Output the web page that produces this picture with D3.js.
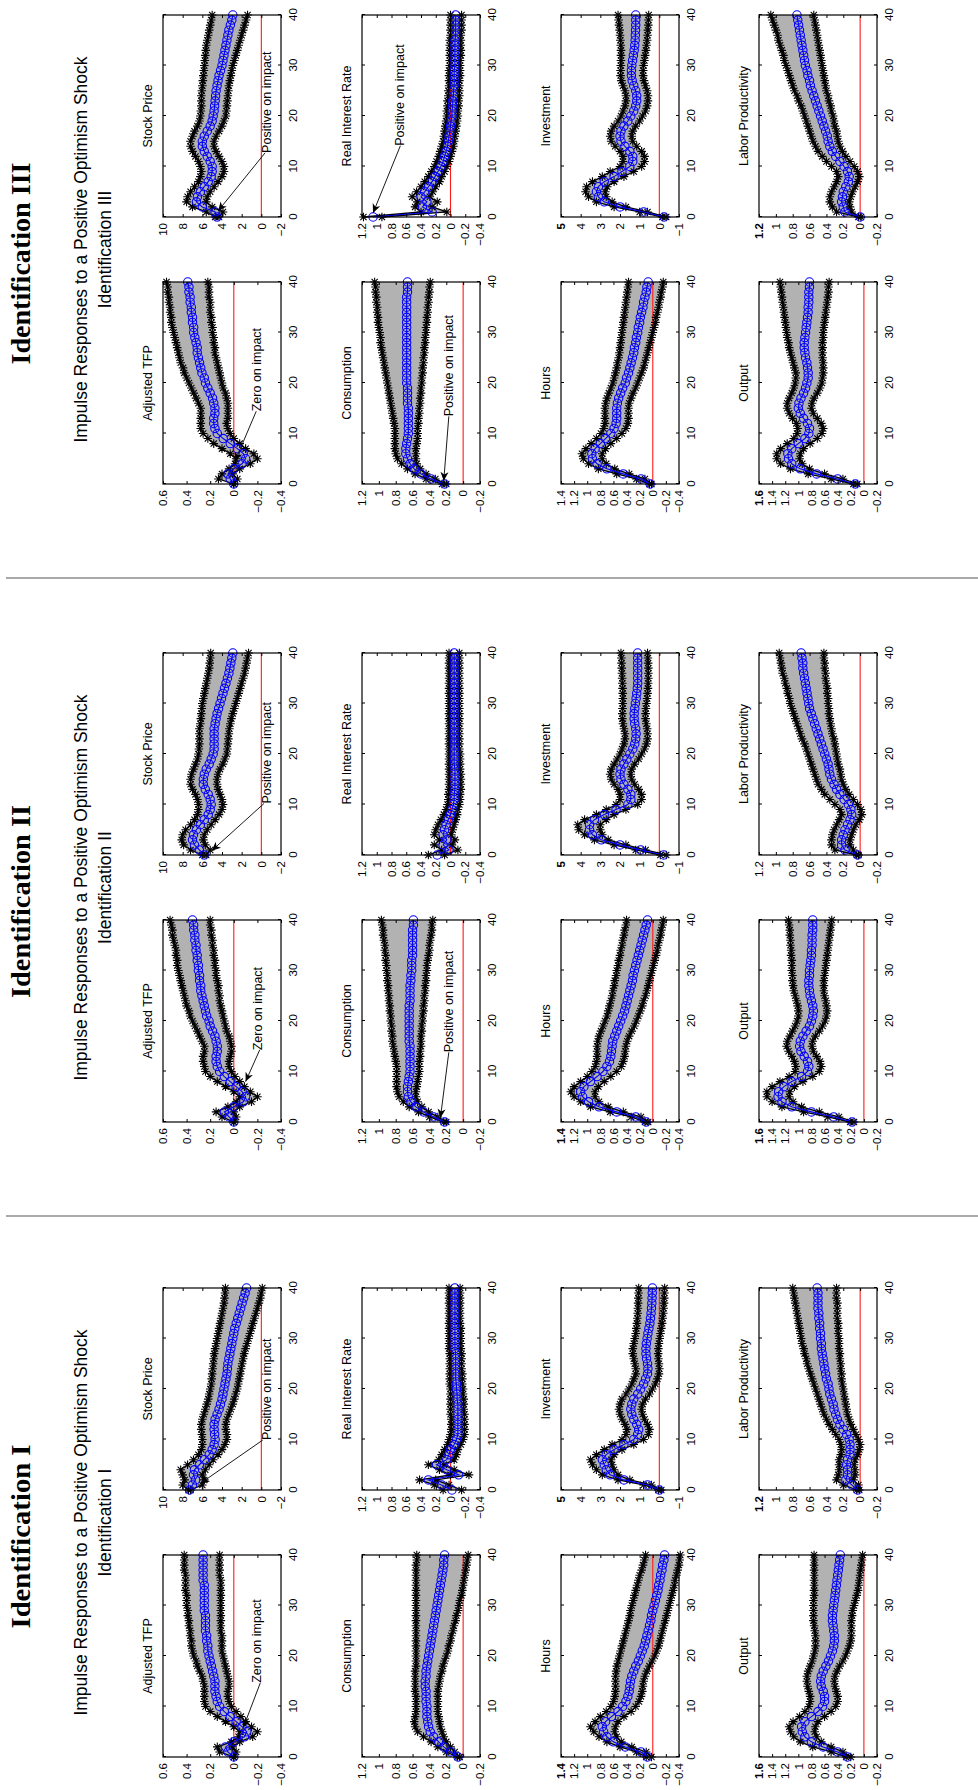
<!DOCTYPE html>
<html><head><meta charset="utf-8">
<script src="https://cdn.jsdelivr.net/npm/d3@7"></script>
<style>
body{margin:0;background:#fff;}
svg{display:block;}
</style></head><body>
<svg id="c" width="978" height="1790"></svg>
<script>
// ---------------- DATA ----------------
const horizon = [0,1,2,3,4,5,6,7,8,9,10,11,12,13,14,15,16,17,18,19,20,21,22,23,24,25,26,27,28,29,30,31,32,33,34,35,36,37,38,39,40];
const xTicks = [0,10,20,30,40];
const varNames = ["Adjusted TFP","Stock Price","Consumption","Real Interest Rate","Hours","Investment","Output","Labor Productivity"];
const yDomains = [[-0.4,0.6],[-2,10],[-0.2,1.2],[-0.4,1.2],[-0.4,1.4],[-1,5],[-0.2,1.6],[-0.2,1.2]];
const yTicks = [[-0.4,-0.2,0,0.2,0.4,0.6],[-2,0,2,4,6,8,10],[-0.2,0,0.2,0.4,0.6,0.8,1,1.2],[-0.4,-0.2,0,0.2,0.4,0.6,0.8,1,1.2],
  [-0.4,-0.2,0,0.2,0.4,0.6,0.8,1,1.2,1.4],[-1,0,1,2,3,4,5],[-0.2,0,0.2,0.4,0.6,0.8,1,1.2,1.4,1.6],[-0.2,0,0.2,0.4,0.6,0.8,1,1.2]];
const panelTitles = ["Identification I","Identification II","Identification III"];
const subtitleLine1 = "Impulse Responses to a Positive Optimism Shock";

// Identification I
const tfpMed1=[0,0.05,0.07,0,-0.09,-0.11,-0.07,-0.02,0.03,0.08,0.12,0.14,0.15,0.16,0.16,0.16,0.17,0.18,0.19,0.2,0.21,0.22,0.22,0.23,0.23,0.24,0.24,0.24,0.24,0.25,0.25,0.25,0.25,0.25,0.25,0.26,0.26,0.26,0.26,0.26,0.26];
const tfpHi1=[0,0.12,0.14,0.02,-0.04,-0.05,0,0.07,0.14,0.2,0.24,0.25,0.25,0.25,0.25,0.26,0.27,0.29,0.31,0.32,0.34,0.35,0.36,0.36,0.37,0.37,0.38,0.38,0.39,0.39,0.4,0.4,0.4,0.41,0.41,0.41,0.41,0.42,0.42,0.42,0.42];
const tfpLo1=[0,-0.02,0.01,-0.05,-0.16,-0.2,-0.15,-0.1,-0.06,-0.02,0.02,0.04,0.05,0.05,0.04,0.04,0.05,0.06,0.07,0.08,0.09,0.1,0.1,0.1,0.1,0.11,0.11,0.11,0.11,0.11,0.11,0.11,0.11,0.11,0.11,0.11,0.12,0.12,0.12,0.12,0.12];
const stockMed1=[7.3,7.0,6.7,6.9,6.8,6.3,5.8,5.3,5.0,4.8,4.7,4.75,4.8,4.8,4.7,4.5,4.3,4.15,4.0,3.9,3.8,3.7,3.6,3.5,3.45,3.4,3.3,3.2,3.1,3.0,2.9,2.8,2.7,2.55,2.4,2.25,2.1,1.95,1.8,1.65,1.5];
const stockHi1=[7.4,8.0,7.8,8.0,8.2,7.5,6.9,6.4,6.1,6.0,6.0,6.05,6.1,6.1,6.0,5.85,5.7,5.55,5.4,5.3,5.2,5.1,5.05,5.0,4.95,4.9,4.85,4.8,4.7,4.6,4.5,4.4,4.3,4.2,4.1,4.0,3.9,3.8,3.75,3.7,3.65];
const stockLo1=[7.2,6.0,5.8,6.0,5.7,5.3,4.9,4.4,4.0,3.7,3.5,3.5,3.6,3.6,3.5,3.3,3.1,2.9,2.75,2.6,2.45,2.35,2.25,2.15,2.05,1.95,1.85,1.75,1.6,1.45,1.3,1.15,1.0,0.85,0.7,0.55,0.4,0.25,0.1,0.0,-0.1];
const consMed1=[0.06,0.15,0.23,0.29,0.35,0.39,0.41,0.42,0.43,0.43,0.43,0.44,0.44,0.44,0.45,0.45,0.44,0.44,0.43,0.42,0.41,0.4,0.39,0.38,0.37,0.36,0.35,0.34,0.33,0.32,0.31,0.3,0.29,0.28,0.27,0.26,0.25,0.24,0.23,0.23,0.22];
const consHi1=[0.07,0.2,0.3,0.38,0.47,0.54,0.57,0.58,0.57,0.56,0.56,0.56,0.56,0.57,0.57,0.57,0.57,0.57,0.56,0.56,0.56,0.56,0.56,0.56,0.56,0.56,0.56,0.56,0.56,0.56,0.56,0.56,0.56,0.56,0.56,0.56,0.56,0.56,0.56,0.55,0.55];
const consLo1=[0.04,0.1,0.15,0.2,0.23,0.25,0.27,0.28,0.29,0.3,0.3,0.3,0.3,0.3,0.29,0.28,0.27,0.25,0.24,0.22,0.2,0.18,0.17,0.15,0.14,0.12,0.11,0.09,0.08,0.06,0.05,0.04,0.02,0.01,0,-0.01,-0.02,-0.03,-0.04,-0.05,-0.06];
const rirMed1=[-0.02,0.12,0.3,-0.11,0.05,0.19,0.05,0.02,0,-0.05,-0.08,-0.1,-0.1,-0.1,-0.1,-0.1,-0.1,-0.1,-0.09,-0.09,-0.08,-0.08,-0.07,-0.07,-0.07,-0.07,-0.07,-0.07,-0.06,-0.06,-0.06,-0.06,-0.06,-0.06,-0.06,-0.06,-0.06,-0.06,-0.06,-0.06,-0.06];
const rirHi1=[0.1,0.22,0.42,0,0.15,0.3,0.16,0.12,0.08,0.04,0.02,0,-0.01,-0.01,-0.01,0,0,0,0,0,0,0.01,0.01,0.01,0.01,0.01,0.01,0.01,0.02,0.02,0.02,0.02,0.02,0.02,0.02,0.02,0.02,0.02,0.02,0.02,0.02];
const rirLo1=[-0.15,0.02,0.2,-0.25,-0.05,0.09,-0.05,-0.08,-0.1,-0.14,-0.17,-0.19,-0.19,-0.19,-0.19,-0.19,-0.18,-0.18,-0.18,-0.17,-0.17,-0.16,-0.16,-0.16,-0.15,-0.15,-0.15,-0.15,-0.14,-0.14,-0.14,-0.14,-0.14,-0.13,-0.13,-0.13,-0.13,-0.13,-0.13,-0.13,-0.13];
const hoursMed1=[0.08,0.18,0.42,0.6,0.7,0.75,0.77,0.72,0.63,0.53,0.46,0.41,0.38,0.36,0.35,0.34,0.32,0.29,0.26,0.22,0.19,0.16,0.13,0.11,0.09,0.07,0.05,0.03,0.02,0,-0.02,-0.04,-0.06,-0.08,-0.09,-0.11,-0.12,-0.14,-0.15,-0.17,-0.18];
const hoursHi1=[0.1,0.25,0.5,0.7,0.82,0.9,0.95,0.88,0.8,0.71,0.64,0.6,0.58,0.57,0.57,0.57,0.57,0.56,0.55,0.53,0.51,0.49,0.47,0.45,0.43,0.41,0.39,0.37,0.35,0.34,0.32,0.3,0.28,0.26,0.24,0.22,0.2,0.17,0.15,0.13,0.11];
const hoursLo1=[0.02,0.1,0.32,0.48,0.55,0.58,0.57,0.53,0.44,0.33,0.26,0.21,0.18,0.16,0.15,0.14,0.12,0.09,0.05,0.01,-0.03,-0.06,-0.09,-0.11,-0.13,-0.15,-0.17,-0.19,-0.21,-0.23,-0.25,-0.27,-0.29,-0.31,-0.33,-0.34,-0.36,-0.38,-0.4,-0.41,-0.42];
const invMed1=[0,0.6,1.8,2.5,2.7,2.8,2.9,2.7,2.3,1.8,1.3,1.1,1.05,1.15,1.3,1.4,1.45,1.4,1.3,1.1,0.95,0.8,0.7,0.6,0.58,0.6,0.65,0.68,0.68,0.66,0.62,0.58,0.53,0.48,0.45,0.42,0.4,0.38,0.37,0.36,0.35];
const invHi1=[0.05,0.8,2.1,2.9,3.2,3.4,3.5,3.2,2.8,2.4,1.9,1.7,1.65,1.75,1.9,2,2.05,2,1.9,1.7,1.55,1.4,1.3,1.2,1.2,1.25,1.3,1.35,1.35,1.3,1.25,1.2,1.17,1.14,1.12,1.1,1.09,1.08,1.07,1.06,1.05];
const invLo1=[-0.1,0.4,1.5,2.1,2.3,2.4,2.45,2.3,1.9,1.3,0.8,0.55,0.5,0.6,0.75,0.85,0.9,0.85,0.7,0.5,0.35,0.2,0.1,0.02,0,0.02,0.05,0.06,0.05,0.02,-0.02,-0.06,-0.1,-0.14,-0.17,-0.2,-0.22,-0.24,-0.25,-0.26,-0.27];
const outMed1=[0.25,0.4,0.62,0.8,0.9,0.94,0.95,0.9,0.8,0.7,0.63,0.6,0.6,0.62,0.65,0.66,0.65,0.62,0.58,0.54,0.51,0.48,0.46,0.45,0.45,0.46,0.47,0.48,0.48,0.47,0.46,0.45,0.44,0.43,0.42,0.41,0.4,0.39,0.38,0.37,0.36];
const outHi1=[0.27,0.5,0.78,0.97,1.07,1.12,1.14,1.08,0.98,0.9,0.84,0.82,0.82,0.84,0.86,0.87,0.87,0.85,0.82,0.79,0.77,0.75,0.74,0.74,0.74,0.75,0.76,0.77,0.77,0.77,0.77,0.77,0.76,0.76,0.76,0.76,0.76,0.76,0.76,0.76,0.76];
const outLo1=[0.2,0.32,0.5,0.65,0.72,0.75,0.74,0.7,0.6,0.5,0.43,0.4,0.4,0.42,0.44,0.45,0.44,0.41,0.37,0.32,0.28,0.25,0.22,0.2,0.19,0.19,0.19,0.19,0.18,0.17,0.15,0.13,0.11,0.09,0.08,0.07,0.06,0.05,0.04,0.03,0.02];
const lpMed1=[0.03,0.1,0.17,0.15,0.15,0.16,0.15,0.12,0.12,0.12,0.13,0.16,0.2,0.24,0.27,0.29,0.31,0.32,0.34,0.36,0.37,0.38,0.4,0.41,0.42,0.43,0.44,0.45,0.46,0.46,0.47,0.47,0.48,0.48,0.49,0.49,0.5,0.5,0.5,0.5,0.51];
const lpHi1=[0.04,0.2,0.28,0.26,0.25,0.25,0.25,0.23,0.22,0.23,0.25,0.29,0.33,0.37,0.4,0.43,0.45,0.47,0.49,0.51,0.53,0.55,0.57,0.59,0.61,0.63,0.64,0.66,0.67,0.69,0.7,0.71,0.72,0.73,0.74,0.75,0.76,0.77,0.78,0.79,0.8];
const lpLo1=[0.01,0.02,0.08,0.06,0.06,0.07,0.06,0.03,0.01,0,0.02,0.05,0.08,0.11,0.13,0.15,0.16,0.17,0.18,0.19,0.2,0.21,0.22,0.22,0.23,0.23,0.24,0.24,0.25,0.25,0.25,0.26,0.26,0.26,0.27,0.27,0.27,0.27,0.28,0.28,0.28];

// Identification II
const tfpMed2=[0,0.04,0.08,0,-0.08,-0.1,-0.07,-0.02,0.03,0.08,0.12,0.14,0.15,0.15,0.14,0.14,0.15,0.16,0.18,0.2,0.21,0.23,0.24,0.25,0.26,0.27,0.28,0.28,0.29,0.29,0.3,0.3,0.31,0.31,0.32,0.32,0.33,0.33,0.34,0.34,0.35];
const tfpHi2=[0,0.1,0.15,0.05,-0.02,-0.05,0,0.07,0.14,0.2,0.24,0.25,0.26,0.26,0.25,0.25,0.27,0.29,0.31,0.33,0.35,0.37,0.38,0.4,0.41,0.42,0.43,0.44,0.45,0.46,0.47,0.48,0.48,0.49,0.49,0.5,0.51,0.52,0.52,0.53,0.54];
const tfpLo2=[0,-0.02,0,-0.05,-0.15,-0.2,-0.14,-0.09,-0.05,-0.01,0.02,0.04,0.04,0.03,0.02,0.02,0.03,0.04,0.06,0.07,0.08,0.09,0.1,0.11,0.12,0.12,0.13,0.13,0.14,0.15,0.15,0.16,0.16,0.17,0.17,0.18,0.18,0.19,0.19,0.2,0.2];
const stockMed2=[5.8,6.3,6.8,7,6.9,6.6,6.2,5.8,5.4,5.2,5.1,5.2,5.4,5.7,5.9,5.9,5.8,5.6,5.3,5.1,4.9,4.8,4.8,4.8,4.8,4.8,4.7,4.6,4.5,4.35,4.2,4.05,3.9,3.75,3.6,3.45,3.3,3.2,3.1,3,2.9];
const stockHi2=[6,7.2,7.9,8.1,8,7.7,7.2,6.8,6.5,6.4,6.4,6.5,6.7,7,7.2,7.2,7.1,6.9,6.7,6.5,6.4,6.35,6.3,6.3,6.3,6.3,6.2,6.15,6.1,6.05,6,5.9,5.8,5.7,5.6,5.5,5.4,5.3,5.25,5.2,5.15];
const stockLo2=[5.6,5.2,5.7,5.9,5.8,5.5,5.1,4.7,4.3,4,3.9,4,4.2,4.4,4.5,4.5,4.4,4.2,3.9,3.7,3.5,3.45,3.4,3.35,3.3,3.25,3.15,3.05,2.9,2.75,2.6,2.45,2.3,2.15,2,1.85,1.7,1.6,1.5,1.4,1.3];
const consMed2=[0.22,0.35,0.47,0.56,0.62,0.65,0.66,0.66,0.65,0.64,0.63,0.63,0.63,0.63,0.63,0.63,0.64,0.64,0.64,0.64,0.64,0.64,0.64,0.64,0.63,0.63,0.63,0.63,0.62,0.62,0.61,0.61,0.61,0.6,0.6,0.6,0.6,0.6,0.6,0.59,0.59];
const consHi2=[0.23,0.4,0.53,0.64,0.71,0.76,0.78,0.79,0.79,0.79,0.79,0.79,0.8,0.81,0.82,0.83,0.84,0.84,0.85,0.85,0.86,0.86,0.87,0.87,0.88,0.88,0.89,0.89,0.9,0.9,0.91,0.91,0.92,0.92,0.93,0.93,0.94,0.95,0.95,0.96,0.97];
const consLo2=[0.2,0.3,0.41,0.49,0.54,0.56,0.56,0.55,0.54,0.53,0.52,0.52,0.52,0.51,0.51,0.5,0.5,0.5,0.49,0.49,0.48,0.48,0.47,0.47,0.46,0.46,0.45,0.45,0.44,0.44,0.43,0.43,0.42,0.41,0.4,0.4,0.39,0.38,0.37,0.37,0.36];
const rirMed2=[0.18,0.02,0.1,0.05,0.1,0.08,0.06,0.03,0,-0.02,-0.04,-0.05,-0.05,-0.06,-0.06,-0.06,-0.06,-0.06,-0.05,-0.05,-0.05,-0.05,-0.05,-0.05,-0.05,-0.05,-0.05,-0.05,-0.05,-0.05,-0.05,-0.05,-0.05,-0.05,-0.05,-0.05,-0.05,-0.05,-0.05,-0.05,-0.05];
const rirHi2=[0.3,0.12,0.22,0.15,0.22,0.2,0.17,0.13,0.09,0.06,0.04,0.03,0.03,0.02,0.02,0.02,0.02,0.02,0.02,0.02,0.02,0.02,0.02,0.02,0.02,0.02,0.02,0.02,0.02,0.02,0.02,0.02,0.02,0.02,0.02,0.02,0.02,0.02,0.02,0.02,0.02];
const rirLo2=[0.08,-0.1,-0.02,-0.06,-0.01,-0.03,-0.05,-0.07,-0.09,-0.1,-0.12,-0.13,-0.13,-0.14,-0.14,-0.14,-0.14,-0.13,-0.13,-0.13,-0.13,-0.12,-0.12,-0.12,-0.12,-0.12,-0.12,-0.12,-0.12,-0.12,-0.12,-0.12,-0.12,-0.12,-0.12,-0.12,-0.12,-0.12,-0.12,-0.12,-0.12];
const hoursMed2=[0.1,0.26,0.55,0.82,0.98,1.07,1.1,1.05,0.95,0.85,0.76,0.7,0.66,0.64,0.63,0.62,0.61,0.58,0.55,0.52,0.49,0.46,0.43,0.41,0.39,0.37,0.35,0.33,0.31,0.3,0.28,0.26,0.24,0.22,0.2,0.18,0.16,0.14,0.12,0.1,0.08];
const hoursHi2=[0.12,0.33,0.65,0.95,1.1,1.2,1.25,1.2,1.1,1,0.93,0.88,0.86,0.85,0.85,0.85,0.84,0.82,0.79,0.76,0.73,0.7,0.68,0.66,0.64,0.62,0.61,0.59,0.58,0.56,0.55,0.53,0.52,0.5,0.49,0.47,0.46,0.44,0.43,0.41,0.4];
const hoursLo2=[0.07,0.18,0.45,0.68,0.82,0.88,0.88,0.83,0.74,0.64,0.55,0.48,0.45,0.43,0.42,0.41,0.39,0.36,0.32,0.28,0.25,0.22,0.19,0.16,0.14,0.11,0.09,0.07,0.05,0.03,0.01,-0.01,-0.03,-0.05,-0.07,-0.08,-0.1,-0.12,-0.13,-0.15,-0.16];
const invMed2=[-0.22,0.95,2,2.95,3.4,3.55,3.55,3.3,2.8,2.2,1.6,1.45,1.45,1.6,1.8,1.95,2,1.95,1.8,1.65,1.5,1.35,1.25,1.2,1.18,1.2,1.25,1.28,1.28,1.25,1.22,1.18,1.15,1.12,1.1,1.1,1.1,1.1,1.1,1.1,1.1];
const invHi2=[-0.05,1.2,2.3,3.3,3.8,4.1,4.15,3.8,3.2,2.7,2.2,2,2,2.1,2.3,2.45,2.5,2.45,2.3,2.15,2,1.9,1.8,1.75,1.75,1.8,1.85,1.88,1.88,1.87,1.86,1.86,1.86,1.87,1.88,1.89,1.9,1.91,1.92,1.93,1.95];
const invLo2=[-0.35,0.7,1.7,2.6,2.9,3,3,2.7,2.3,1.7,1.1,0.9,0.9,1.05,1.25,1.4,1.45,1.4,1.25,1.05,0.9,0.75,0.65,0.6,0.6,0.62,0.66,0.7,0.7,0.68,0.65,0.62,0.6,0.58,0.57,0.56,0.56,0.56,0.57,0.58,0.6];
const outMed2=[0.18,0.46,0.8,1.1,1.25,1.31,1.3,1.22,1.1,0.95,0.86,0.84,0.86,0.91,0.96,0.98,0.97,0.93,0.88,0.83,0.8,0.78,0.77,0.78,0.8,0.82,0.83,0.84,0.84,0.83,0.83,0.82,0.81,0.8,0.8,0.79,0.79,0.79,0.78,0.78,0.78];
const outHi2=[0.21,0.55,0.92,1.25,1.4,1.48,1.48,1.4,1.28,1.14,1.05,1.04,1.06,1.1,1.15,1.18,1.17,1.13,1.09,1.05,1.02,1,1,1.01,1.03,1.05,1.07,1.08,1.09,1.09,1.1,1.1,1.1,1.11,1.11,1.12,1.12,1.13,1.13,1.14,1.15];
const outLo2=[0.15,0.38,0.68,0.95,1.08,1.14,1.13,1.06,0.93,0.78,0.68,0.65,0.67,0.72,0.77,0.79,0.78,0.74,0.68,0.63,0.59,0.57,0.56,0.57,0.58,0.6,0.61,0.61,0.61,0.6,0.59,0.58,0.57,0.56,0.55,0.54,0.53,0.52,0.51,0.5,0.49];
const lpMed2=[0.03,0.18,0.22,0.22,0.2,0.18,0.15,0.12,0.1,0.11,0.14,0.19,0.24,0.28,0.31,0.34,0.36,0.37,0.38,0.4,0.42,0.44,0.46,0.48,0.5,0.52,0.54,0.56,0.58,0.6,0.61,0.62,0.63,0.64,0.65,0.66,0.67,0.68,0.68,0.69,0.7];
const lpHi2=[0.04,0.3,0.34,0.34,0.33,0.31,0.28,0.25,0.22,0.24,0.3,0.36,0.42,0.46,0.5,0.52,0.54,0.56,0.58,0.6,0.62,0.64,0.66,0.69,0.71,0.73,0.75,0.77,0.79,0.81,0.83,0.84,0.86,0.87,0.89,0.9,0.92,0.93,0.94,0.95,0.96];
const lpLo2=[0.02,0.08,0.12,0.12,0.1,0.08,0.05,0.01,-0.02,-0.01,0.03,0.08,0.13,0.17,0.2,0.22,0.23,0.24,0.26,0.27,0.28,0.29,0.3,0.31,0.33,0.34,0.35,0.36,0.37,0.37,0.38,0.38,0.39,0.39,0.4,0.41,0.41,0.42,0.42,0.43,0.43];

// Identification III
const tfpMed3=[0,0.03,0.05,0,-0.07,-0.1,-0.08,-0.03,0.03,0.09,0.14,0.16,0.17,0.17,0.16,0.16,0.17,0.18,0.2,0.22,0.24,0.25,0.27,0.28,0.29,0.3,0.31,0.31,0.32,0.33,0.34,0.34,0.35,0.35,0.36,0.36,0.37,0.37,0.38,0.38,0.39];
const tfpHi3=[0,0.13,0.1,0.04,-0.01,-0.02,0.03,0.1,0.17,0.22,0.26,0.28,0.28,0.28,0.28,0.28,0.3,0.32,0.34,0.36,0.38,0.4,0.42,0.43,0.45,0.46,0.47,0.48,0.49,0.5,0.51,0.52,0.53,0.53,0.54,0.54,0.55,0.55,0.56,0.56,0.57];
const tfpLo3=[0,-0.03,0.01,-0.05,-0.14,-0.2,-0.17,-0.1,-0.05,0,0.03,0.05,0.06,0.05,0.05,0.05,0.05,0.06,0.07,0.09,0.1,0.11,0.12,0.13,0.14,0.15,0.16,0.16,0.17,0.17,0.18,0.18,0.19,0.19,0.2,0.2,0.2,0.21,0.21,0.21,0.22];
const stockMed3=[4.5,4.7,6,6.6,6.5,6.2,5.8,5.4,5.1,5,5,5.2,5.5,5.8,6,6,5.8,5.5,5.2,5,4.9,4.8,4.75,4.7,4.65,4.6,4.5,4.4,4.3,4.15,4,3.9,3.8,3.7,3.6,3.5,3.4,3.3,3.15,3,2.9];
const stockHi3=[4.7,5.6,7,7.6,7.5,7.2,6.8,6.4,6.2,6.1,6.2,6.4,6.7,7,7.2,7.2,7,6.8,6.5,6.3,6.2,6.15,6.1,6.1,6.1,6.05,6,5.95,5.9,5.85,5.8,5.75,5.7,5.65,5.6,5.5,5.4,5.3,5.2,5.1,5];
const stockLo3=[4.3,3.9,5,5.6,5.5,5.2,4.8,4.4,4,3.8,3.8,4,4.3,4.6,4.8,4.8,4.6,4.3,4,3.8,3.6,3.55,3.5,3.45,3.4,3.35,3.3,3.2,3.1,3,2.9,2.75,2.6,2.45,2.3,2.15,2,1.85,1.7,1.55,1.4];
const consMed3=[0.22,0.38,0.5,0.58,0.63,0.66,0.68,0.68,0.67,0.66,0.65,0.65,0.65,0.65,0.65,0.65,0.66,0.66,0.66,0.66,0.67,0.67,0.67,0.67,0.67,0.67,0.67,0.67,0.67,0.67,0.67,0.67,0.67,0.67,0.67,0.67,0.67,0.67,0.66,0.66,0.66];
const consHi3=[0.25,0.44,0.57,0.66,0.73,0.78,0.8,0.81,0.81,0.81,0.81,0.81,0.82,0.83,0.84,0.85,0.86,0.87,0.88,0.89,0.9,0.91,0.92,0.93,0.94,0.95,0.96,0.97,0.98,0.98,0.99,1,1.01,1.01,1.02,1.02,1.03,1.03,1.04,1.04,1.05];
const consLo3=[0.2,0.33,0.44,0.51,0.55,0.56,0.56,0.56,0.55,0.54,0.54,0.54,0.53,0.53,0.52,0.52,0.51,0.51,0.5,0.5,0.49,0.49,0.48,0.48,0.47,0.47,0.46,0.46,0.45,0.45,0.44,0.44,0.43,0.43,0.42,0.42,0.41,0.41,0.4,0.4,0.39];
const rirMed3=[1.05,0.25,0.38,0.32,0.4,0.35,0.3,0.25,0.21,0.17,0.13,0.1,0.08,0.06,0.04,0.03,0.02,0.01,0,-0.01,-0.02,-0.02,-0.03,-0.03,-0.04,-0.04,-0.05,-0.05,-0.05,-0.05,-0.06,-0.06,-0.06,-0.06,-0.06,-0.06,-0.07,-0.07,-0.07,-0.07,-0.07];
const rirHi3=[1.18,0.4,0.48,0.45,0.52,0.46,0.4,0.35,0.3,0.26,0.22,0.19,0.16,0.14,0.12,0.1,0.09,0.08,0.07,0.06,0.05,0.05,0.04,0.04,0.03,0.03,0.02,0.02,0.02,0.02,0.01,0.01,0.01,0.01,0.01,0.01,0,0,0,0,0];
const rirLo3=[0.93,0.05,0.25,0.18,0.28,0.24,0.2,0.15,0.12,0.08,0.05,0.02,0,-0.02,-0.04,-0.05,-0.06,-0.07,-0.08,-0.09,-0.1,-0.1,-0.11,-0.11,-0.12,-0.12,-0.12,-0.12,-0.13,-0.13,-0.13,-0.13,-0.14,-0.14,-0.14,-0.14,-0.14,-0.15,-0.15,-0.15,-0.15];
const hoursMed3=[0.04,0.18,0.45,0.7,0.85,0.92,0.93,0.88,0.8,0.72,0.64,0.59,0.56,0.55,0.55,0.55,0.54,0.52,0.49,0.46,0.42,0.4,0.37,0.35,0.33,0.31,0.29,0.28,0.26,0.25,0.23,0.22,0.2,0.19,0.17,0.15,0.14,0.12,0.1,0.09,0.07];
const hoursHi3=[0.05,0.25,0.55,0.83,0.98,1.06,1.08,1.02,0.94,0.86,0.79,0.75,0.73,0.73,0.73,0.73,0.72,0.7,0.67,0.64,0.61,0.59,0.57,0.55,0.54,0.52,0.51,0.5,0.49,0.48,0.47,0.46,0.45,0.44,0.43,0.42,0.41,0.4,0.39,0.38,0.37];
const hoursLo3=[0.02,0.12,0.36,0.58,0.71,0.77,0.77,0.72,0.64,0.55,0.47,0.41,0.38,0.37,0.37,0.37,0.36,0.33,0.3,0.26,0.23,0.2,0.17,0.14,0.12,0.1,0.08,0.06,0.04,0.02,0,-0.02,-0.04,-0.05,-0.07,-0.09,-0.1,-0.12,-0.13,-0.15,-0.16];
const invMed3=[-0.24,0.8,2,2.8,3.1,3.2,3.1,2.8,2.3,1.9,1.5,1.35,1.35,1.5,1.75,1.95,2,1.95,1.8,1.6,1.45,1.3,1.2,1.15,1.15,1.2,1.3,1.38,1.42,1.42,1.4,1.36,1.32,1.28,1.25,1.23,1.22,1.21,1.2,1.2,1.2];
const invHi3=[-0.15,1,2.3,3.2,3.6,3.75,3.7,3.4,2.9,2.5,2,1.85,1.85,2,2.25,2.45,2.5,2.45,2.3,2.1,1.95,1.85,1.75,1.7,1.7,1.75,1.85,1.93,1.97,1.97,1.96,1.95,1.95,1.95,1.96,1.98,2,2.02,2.05,2.07,2.1];
const invLo3=[-0.35,0.6,1.7,2.4,2.7,2.75,2.65,2.3,1.8,1.3,0.9,0.75,0.75,0.9,1.15,1.35,1.4,1.35,1.2,1,0.85,0.7,0.62,0.58,0.58,0.62,0.7,0.78,0.82,0.82,0.8,0.76,0.72,0.68,0.65,0.62,0.6,0.58,0.56,0.55,0.54];
const outMed3=[0.13,0.4,0.72,0.97,1.1,1.15,1.16,1.1,1,0.9,0.84,0.83,0.86,0.92,0.97,1,0.99,0.96,0.92,0.89,0.87,0.85,0.85,0.86,0.87,0.89,0.9,0.91,0.91,0.9,0.89,0.88,0.87,0.86,0.85,0.85,0.84,0.84,0.84,0.83,0.83];
const outHi3=[0.16,0.5,0.85,1.12,1.27,1.33,1.33,1.27,1.17,1.07,1.02,1.01,1.03,1.09,1.14,1.17,1.17,1.14,1.1,1.07,1.05,1.04,1.04,1.06,1.08,1.1,1.12,1.14,1.15,1.17,1.18,1.19,1.2,1.21,1.22,1.23,1.24,1.25,1.26,1.27,1.28];
const outLo3=[0.1,0.32,0.6,0.83,0.94,0.98,0.97,0.92,0.82,0.71,0.64,0.62,0.65,0.71,0.77,0.8,0.79,0.76,0.71,0.67,0.64,0.63,0.62,0.62,0.62,0.63,0.63,0.63,0.63,0.62,0.62,0.61,0.6,0.59,0.58,0.57,0.56,0.55,0.54,0.54,0.53];
const lpMed3=[0,0.18,0.2,0.22,0.21,0.2,0.17,0.14,0.13,0.15,0.19,0.24,0.29,0.33,0.36,0.38,0.39,0.41,0.43,0.45,0.47,0.49,0.51,0.53,0.55,0.57,0.59,0.6,0.62,0.63,0.65,0.66,0.67,0.68,0.69,0.7,0.71,0.72,0.73,0.74,0.75];
const lpHi3=[0.02,0.28,0.33,0.36,0.36,0.34,0.31,0.28,0.26,0.28,0.34,0.4,0.45,0.5,0.53,0.56,0.58,0.6,0.62,0.64,0.66,0.68,0.7,0.73,0.75,0.78,0.8,0.82,0.84,0.86,0.88,0.9,0.91,0.93,0.95,0.97,0.98,1,1.02,1.04,1.06];
const lpLo3=[-0.01,0.1,0.12,0.13,0.11,0.09,0.06,0.03,0.01,0.03,0.07,0.12,0.17,0.21,0.24,0.26,0.27,0.28,0.3,0.31,0.32,0.34,0.35,0.37,0.38,0.4,0.41,0.42,0.43,0.44,0.45,0.46,0.47,0.48,0.49,0.5,0.51,0.52,0.53,0.54,0.55];

// annotations (data units of the subplot they sit in)
const annotations = [
  {p:0,v:0,label:"Zero on impact",tx:14.7,ty:-0.23,ax:14.7,ay:-0.225,hx:5.8,hy:-0.08},
  {p:0,v:1,label:"Positive on impact",tx:9.9,ty:-1.0,ax:9.9,ay:-0.15,hx:1.3,hy:6.2},
  {p:1,v:0,label:"Zero on impact",tx:14.2,ty:-0.24,ax:14.3,ay:-0.22,hx:8.0,hy:-0.1},
  {p:1,v:1,label:"Positive on impact",tx:10.2,ty:-1.0,ax:10.2,ay:-0.27,hx:0.85,hy:5.05},
  {p:1,v:2,label:"Positive on impact",tx:13.8,ty:0.117,ax:13.8,ay:0.17,hx:0.8,hy:0.27},
  {p:2,v:0,label:"Zero on impact",tx:14.4,ty:-0.23,ax:14.4,ay:-0.19,hx:4.5,hy:-0.01},
  {p:2,v:1,label:"Positive on impact",tx:12.7,ty:-1.0,ax:12.7,ay:-0.38,hx:1.2,hy:4.4},
  {p:2,v:2,label:"Positive on impact",tx:13.4,ty:0.117,ax:13.4,ay:0.17,hx:0.6,hy:0.23},
  {p:2,v:3,label:"Positive on impact",tx:14.1,ty:0.63,ax:14.1,ay:0.68,hx:0.8,hy:1.05}
];
// subplots whose top y tick label renders heavy in the reference
const boldTop = [[4,5,6,7],[4,5,6],[5,6,7]];

const series = [
  [{med:tfpMed1,lo:tfpLo1,hi:tfpHi1},{med:stockMed1,lo:stockLo1,hi:stockHi1},{med:consMed1,lo:consLo1,hi:consHi1},{med:rirMed1,lo:rirLo1,hi:rirHi1},
   {med:hoursMed1,lo:hoursLo1,hi:hoursHi1},{med:invMed1,lo:invLo1,hi:invHi1},{med:outMed1,lo:outLo1,hi:outHi1},{med:lpMed1,lo:lpLo1,hi:lpHi1}],
  [{med:tfpMed2,lo:tfpLo2,hi:tfpHi2},{med:stockMed2,lo:stockLo2,hi:stockHi2},{med:consMed2,lo:consLo2,hi:consHi2},{med:rirMed2,lo:rirLo2,hi:rirHi2},
   {med:hoursMed2,lo:hoursLo2,hi:hoursHi2},{med:invMed2,lo:invLo2,hi:invHi2},{med:outMed2,lo:outLo2,hi:outHi2},{med:lpMed2,lo:lpLo2,hi:lpHi2}],
  [{med:tfpMed3,lo:tfpLo3,hi:tfpHi3},{med:stockMed3,lo:stockLo3,hi:stockHi3},{med:consMed3,lo:consLo3,hi:consHi3},{med:rirMed3,lo:rirLo3,hi:rirHi3},
   {med:hoursMed3,lo:hoursLo3,hi:hoursHi3},{med:invMed3,lo:invLo3,hi:invHi3},{med:outMed3,lo:outLo3,hi:outHi3},{med:lpMed3,lo:lpLo3,hi:lpHi3}]
];

// ---------------- LAYOUT (landscape page, rotated onto the portrait canvas) ----------------
const SANS = "'Liberation Sans', Arial, Helvetica, sans-serif";
const SERIF = "'Liberation Serif', 'Times New Roman', serif";
const PANEL_LEFT = [33, 668, 1306], COL_OFF = 267, ROW_TOP = [163, 362, 561, 759], BW = 202, BH = 118;
const SEP_X = [574, 1212];
const TITLE_LEN = [184, 193, 202];
const STAR = "M-4.3,0H4.3M0,-4.3V4.3M-3.1,-3.1L3.1,3.1M-3.1,3.1L3.1,-3.1";
const fmt = d => (d < 0 ? "\u2212" : "") + Math.abs(d);

const svg = d3.select("#c");
svg.append("rect").attr("width",978).attr("height",1790).attr("fill","#fff");
const root = svg.append("g").attr("transform","translate(0,1790) rotate(-90)");

SEP_X.forEach(x => root.append("line").attr("x1",x).attr("x2",x).attr("y1",6).attr("y2",978)
  .attr("stroke","#555").attr("stroke-width",1.2));

panelTitles.forEach((t,p) => {
  const cx = PANEL_LEFT[p] + (COL_OFF + BW) / 2;
  root.append("text").attr("x",cx-14).attr("y",30).attr("text-anchor","middle")
    .attr("font-family",SERIF).attr("font-weight","bold").attr("font-size",27)
    .attr("textLength",TITLE_LEN[p]).attr("lengthAdjust","spacingAndGlyphs").text(t);
  root.append("text").attr("x",cx).attr("y",87).attr("text-anchor","middle")
    .attr("font-family",SANS).attr("font-size",17.5).text(subtitleLine1);
  root.append("text").attr("x",cx).attr("y",111).attr("text-anchor","middle")
    .attr("font-family",SANS).attr("font-size",17.5).text(t);
});

const scales = {};

series.forEach((plots,p) => {
  plots.forEach((s,vi) => {
    const bx = PANEL_LEFT[p] + (vi % 2) * COL_OFF;
    const by = ROW_TOP[Math.floor(vi / 2)];
    const x = d3.scaleLinear().domain([0,40]).range([bx, bx + BW]);
    const y = d3.scaleLinear().domain(yDomains[vi]).range([by + BH, by]);
    scales[p + "_" + vi] = {x, y};
    const g = root.append("g");
    const pts = k => horizon.map((h,i) => [x(h), y(s[k][i])]);

    g.append("path").datum(horizon)
      .attr("d", d3.area().x(h => x(h)).y0((h,i) => y(s.lo[i])).y1((h,i) => y(s.hi[i])))
      .attr("fill","#b2b2b2");
    g.append("line").attr("x1",x(0)).attr("x2",x(40)).attr("y1",y(0)).attr("y2",y(0))
      .attr("stroke","#ff1a1a").attr("stroke-width",1.1);

    ["hi","lo"].forEach(k => {
      const P = pts(k);
      g.append("path").attr("d", d3.line()(P)).attr("fill","none").attr("stroke","#000").attr("stroke-width",1.3);
      g.append("g").selectAll("path").data(P).join("path")
        .attr("transform", d => `translate(${d[0]},${d[1]})`).attr("d",STAR)
        .attr("fill","none").attr("stroke","#000").attr("stroke-width",1.1);
    });
    const M = pts("med");
    g.append("path").attr("d", d3.line()(M)).attr("fill","none").attr("stroke","#0000ff").attr("stroke-width",1.1);
    g.append("g").selectAll("circle").data(M).join("circle")
      .attr("cx", d => d[0]).attr("cy", d => d[1]).attr("r",4.2)
      .attr("fill","none").attr("stroke","#0000ff").attr("stroke-width",1.1);

    // axes with inward ticks on all four sides
    const styleAxis = a => { a.attr("font-size",11.5).attr("font-family",SANS); a.select(".domain").remove();
      a.selectAll("line").attr("stroke","#000"); a.selectAll("text").attr("fill","#000"); };
    const aB = g.append("g").attr("transform",`translate(0,${by+BH})`)
      .call(d3.axisBottom(x).tickValues(xTicks).tickSizeInner(-3).tickSizeOuter(0).tickPadding(8).tickFormat(fmt));
    styleAxis(aB);
    const aT = g.append("g").attr("transform",`translate(0,${by})`)
      .call(d3.axisTop(x).tickValues(xTicks).tickSizeInner(-3).tickSizeOuter(0).tickFormat(""));
    styleAxis(aT);
    const yt = yTicks[vi];
    const aL = g.append("g").attr("transform",`translate(${bx},0)`)
      .call(d3.axisLeft(y).tickValues(yt).tickSizeInner(-3).tickSizeOuter(0).tickPadding(6).tickFormat(fmt));
    styleAxis(aL);
    if (boldTop[p].includes(vi)) aL.selectAll(".tick text").filter(d => d === yt[yt.length-1]).attr("font-weight","bold");
    const aR = g.append("g").attr("transform",`translate(${bx+BW},0)`)
      .call(d3.axisRight(y).tickValues(yt).tickSizeInner(-3).tickSizeOuter(0).tickFormat(""));
    styleAxis(aR);
    g.append("rect").attr("x",bx).attr("y",by).attr("width",BW).attr("height",BH)
      .attr("fill","none").attr("stroke","#000").attr("stroke-width",1.2);

    g.append("text").attr("x",bx + BW/2).attr("y",by - 11.5).attr("text-anchor","middle")
      .attr("font-family",SANS).attr("font-size",12.5).text(varNames[vi]);
  });
});

// annotations
annotations.forEach(a => {
  const {x, y} = scales[a.p + "_" + a.v];
  const x1 = x(a.ax), y1 = y(a.ay), x2 = x(a.hx), y2 = y(a.hy);
  root.append("line").attr("x1",x1).attr("y1",y1).attr("x2",x2).attr("y2",y2)
    .attr("stroke","#000").attr("stroke-width",0.9);
  const ang = Math.atan2(y2 - y1, x2 - x1);
  const L = 9, Wd = 4, N = 6.5;
  const c = Math.cos(ang), sn = Math.sin(ang);
  const bxp = x2 - L*c, byp = y2 - L*sn, nxp = x2 - N*c, nyp = y2 - N*sn;
  const head = [[x2,y2],[bxp - Wd*sn, byp + Wd*c],[nxp,nyp],[bxp + Wd*sn, byp - Wd*c]];
  root.append("path").attr("d","M" + head.map(q => q.join(",")).join("L") + "Z").attr("fill","#000");
  root.append("text").attr("x",x(a.tx)).attr("y",y(a.ty)).attr("font-family",SANS)
    .attr("font-size",12.5).text(a.label);
});
</script>
</body></html>
